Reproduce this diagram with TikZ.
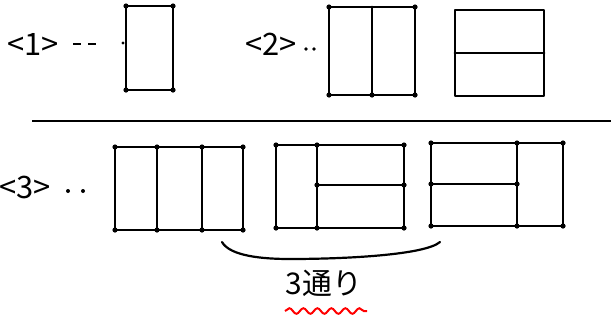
\documentclass[tikz,border=0pt]{standalone}
\usepackage{fontspec}
\setmainfont{Noto Sans CJK JP}
\usetikzlibrary{decorations.pathmorphing}
\begin{document}
\begin{tikzpicture}[x=1bp,y=-1bp,
  ink/.style={line width=2.8bp, line cap=round, line join=round, black},
  lbl/.style={inner sep=0pt, anchor=west, font=\fontsize{31}{31}\selectfont}]
\useasboundingbox (0,0) rectangle (611,322);
% labels
\node[lbl] (l1) at (7,44) {<1>};
\node[lbl] (l2) at (245,44) {<2>};
\node[lbl] (l3) at (-1,187) {<3>};
% dashes and dots
\draw[line width=2.4bp] (73,44) -- (81,44) (88,44) -- (96,44);
\fill (123,43) circle (1.6bp);
\fill (306,49) circle (1.8bp) (314,49) circle (1.8bp);
\fill (68,191) circle (2bp) (83,191) circle (2bp);
% rect 1
\draw[ink] (126,6) rectangle (173,90);
% rect 2
\draw[ink] (329,7) rectangle (415,95) (372,7) -- (372,95);
% rect 3
\draw[ink] (455,10) rectangle (544,96) (455,53) -- (544,53);
% separator
\draw[line width=2.2bp] (32,121) -- (611,121);
% rect 4
\draw[ink] (115,147) rectangle (243,230) (157,147) -- (157,230) (202,147) -- (202,230);
% rect 5
\draw[ink] (276,145) rectangle (404,228) (317,145) -- (317,228) (317,185) -- (404,185);
% rect 6
\draw[ink] (431,143) rectangle (563,226) (517,143) -- (517,226) (431,184) -- (517,184);
% corner dots
\foreach \p in {(126,6),(173,6),(126,90),(173,90),
  (329,7),(415,7),(329,95),(415,95),(372,95),
  (115,147),(157,147),(202,147),(243,147),(115,230),(157,230),(202,230),(243,230),
  (276,145),(317,145),(404,145),(276,228),(317,228),(404,228),(317,185),(404,185),
  (431,143),(517,143),(563,143),(431,226),(517,226),(563,226),(431,184),(517,184)}
  \fill \p circle (2.6bp);
% brace
\coordinate (bl) at (222,242);
\coordinate (bm) at (290,259);
\coordinate (br) at (440,242);
\draw[line width=2.2bp, line cap=round] (bl) .. controls (230,256) and (262,259) .. (bm) .. controls (345,259) and (425,255) .. (br);
% text
\node[inner sep=0pt, font=\fontsize{30}{30}\selectfont] (t) at (324,283) {3通り};
% red wavy
\coordinate (wl) at (285,311);
\coordinate (wr) at (367,311);
\draw[red, line width=2bp, decorate, decoration={snake, amplitude=2.8bp, segment length=14bp}] (wl) -- (wr);
\end{tikzpicture}
\end{document}
